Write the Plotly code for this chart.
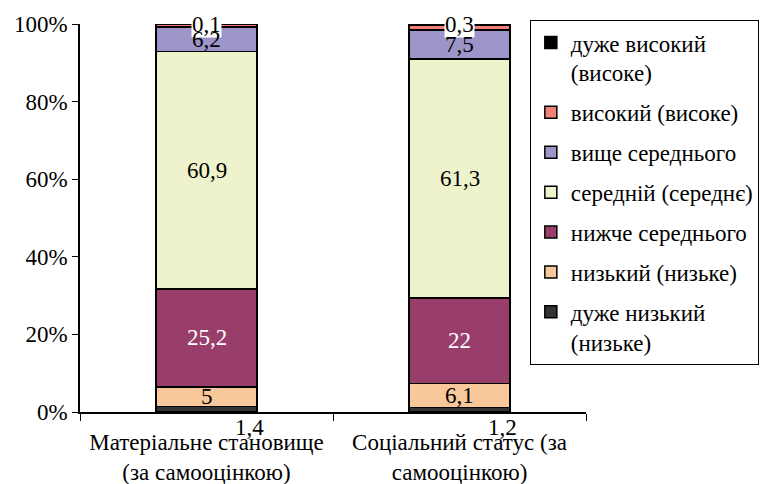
import plotly.graph_objects as go
import numpy as np

categories = ["Матеріальне становище<br>(за самооцінкою)", "Соціальний статус (за<br>самооцінкою)"]
levels = ["дуже низький<br>(низьке)", "низький (низьке)", "нижче середнього",
          "середній (середнє)", "вище середнього", "високий (високе)",
          "дуже високий<br>(високе)"]
# values per level: [material status, social status]
very_low = [1.4, 1.2]
low = [5, 6.1]
below_avg = [25.2, 22]
average = [60.9, 61.3]
above_avg = [6.2, 7.5]
high = [0.7, 1.2]
very_high = [0.1, 0.3]
series = [very_low, low, below_avg, average, above_avg, high, very_high]
y_ticks = [0, 20, 40, 60, 80, 100]
colors = ["#333333", "#F8C89A", "#993E6B", "#EEF3CB", "#9D95C8", "#F08078", "#000000"]
label_colors = ["black", "black", "white", "black", "black", "black", "black"]

FONT = "Liberation Serif"
FS = 23

fig = go.Figure()
for i, (name, vals) in enumerate(zip(levels, series)):
    fig.add_trace(go.Bar(
        x=categories, y=vals, name=name,
        marker=dict(color=colors[i], line=dict(color="black", width=1.5)),
        legendgroup=str(i), legendrank=1000 - i,
    ))

# data labels (Excel-style, percent-stacked positions)
data = np.array(series)
totals = data.sum(axis=0)
cum = np.cumsum(data, axis=0) / totals * 100
annotations = []
fmt = lambda v: (f"{v:g}").replace(".", ",")
for j, cat in enumerate(categories):
    # top label (very high) with white background
    annotations.append(dict(x=cat, y=100, text=fmt(very_high[j]), showarrow=False,
                            yshift=0, bgcolor="white", borderpad=0,
                            font=dict(family=FONT, size=FS, color="black")))
for j, cat in enumerate(categories):
    # bottom label (very low) below the axis
    annotations.append(dict(x=cat, y=0, text=fmt(very_low[j]), showarrow=False,
                            yshift=-15, xshift=43,
                            font=dict(family=FONT, size=FS, color="black")))
    for i in range(1, 5):
        lo = cum[i - 1, j]
        hi = cum[i, j]
        annotations.append(dict(x=cat, y=(lo + hi) / 2, text=fmt(series[i][j]),
                                showarrow=False,
                                font=dict(family=FONT, size=FS, color=label_colors[i])))

fig.update_layout(
    barmode="stack",
    barnorm="percent",
    bargap=0.6,
    width=772, height=476,
    margin=dict(l=72, r=194, t=12, b=72),
    plot_bgcolor="white", paper_bgcolor="white",
    font=dict(family=FONT, size=FS, color="black"),
    xaxis=dict(showline=True, linecolor="black", linewidth=1.5, ticks="outside",
               tickson="boundaries", ticklen=7, tickcolor="black",
               tickfont=dict(size=FS), ticklabelstandoff=9, automargin=False),
    yaxis=dict(range=[0, 100], tickmode="array", tickvals=y_ticks,
               ticktext=[f"{t}%" for t in y_ticks],
               showline=True, linecolor="black", linewidth=1.5, ticks="outside",
               ticklen=6, tickcolor="black", showgrid=False, zeroline=False,
               tickfont=dict(size=FS), automargin=False),
    legend=dict(x=0.889, y=1.01, xanchor="left", yanchor="top",
                bordercolor="black", borderwidth=1, bgcolor="white",
                traceorder="grouped", tracegroupgap=7, valign="top",
                font=dict(family=FONT, size=FS), maxheight=420),
    annotations=annotations,
)

fig.write_html("out.html")
